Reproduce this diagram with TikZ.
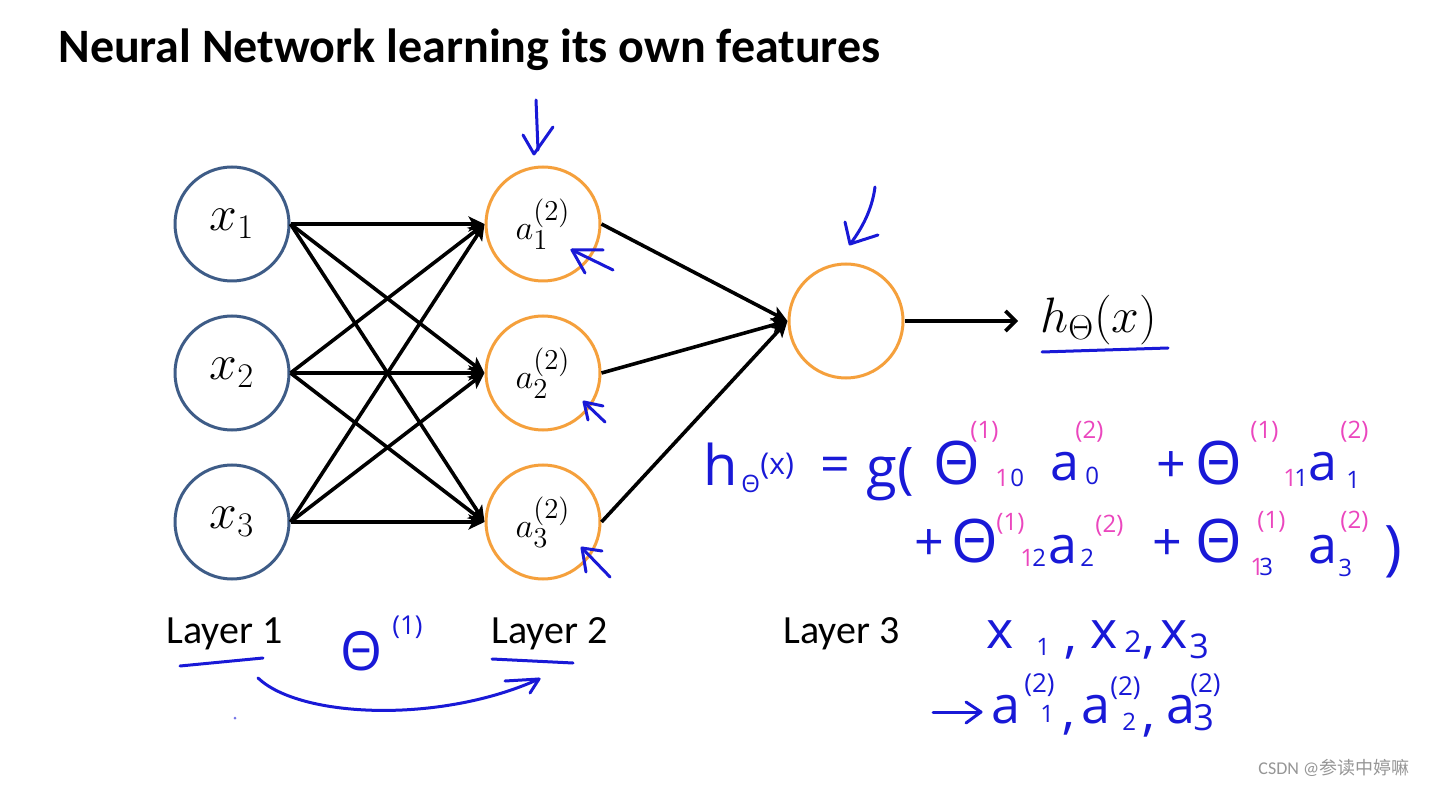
\documentclass[tikz,border=0pt]{standalone}
\usepackage[no-math]{fontspec}
\setmainfont{Carlito}
\newfontfamily\hwfont{Open Sans}
\newfontfamily\cjkfont{Noto Sans CJK SC}
\usetikzlibrary{arrows.meta}
\definecolor{inblue}{RGB}{62,92,135}
\definecolor{orng}{RGB}{245,160,60}
\definecolor{hwblue}{RGB}{25,25,215}
\definecolor{hwpink}{RGB}{235,70,190}
\definecolor{wmgray}{RGB}{150,150,150}
\tikzset{
  neuron/.style={circle, line width=1.5pt, minimum size=57pt, inner sep=0pt},
  inode/.style={neuron, draw=inblue, font=\fontsize{23}{28}\selectfont},
  hnode/.style={neuron, draw=orng, font=\fontsize{19}{24}\selectfont},
  edge/.style={line width=1.8pt, -{Stealth[length=8pt,width=7.5pt,inset=2pt]}},
  outedge/.style={line width=1.8pt, -{Straight Barb[length=5pt,width=10pt]}},
  layerlbl/.style={anchor=base west, inner sep=0pt, font=\fontsize{20}{24}\selectfont},
  hwline/.style={draw=hwblue, line width=1.5pt, line cap=round, line join=round},
  hw/.style={text=hwblue, inner sep=0pt, anchor=base west, font=\hwfont\fontsize{26}{26}\selectfont},
  hwT/.style={text=hwblue, inner sep=0pt, anchor=base west, font=\hwfont\fontsize{30}{30}\selectfont},
  hwm/.style={text=hwblue, inner sep=0pt, anchor=base west, font=\hwfont\fontsize{15}{15}\selectfont},
  hws/.style={text=hwblue, inner sep=0pt, anchor=base west, font=\hwfont\fontsize{12}{12}\selectfont},
  pk/.style={text=hwpink, inner sep=0pt, anchor=base west, font=\hwfont\fontsize{12}{12}\selectfont},
}
\begin{document}
\begin{tikzpicture}[x=0.5pt,y=-0.5pt]
\useasboundingbox (0,0) rectangle (1443,785);
\fill[white] (0,0) rectangle (1443,785);

% title
\node[anchor=base west, inner sep=0pt, font=\bfseries\fontsize{24}{28}\selectfont] (title) at (58,63) {Neural Network learning its own features};

% neurons
\node[inode] (x1) at (232,224) {$x_1$};
\node[inode] (x2) at (232,373) {$x_2$};
\node[inode] (x3) at (232,522) {$x_3$};
\node[hnode] (a1) at (543,224) {$a^{(2)}_1$};
\node[hnode] (a2) at (543,373) {$a^{(2)}_2$};
\node[hnode] (a3) at (543,522) {$a^{(2)}_3$};
\node[neuron, draw=orng] (o) at (846,321) {};
\node[anchor=west, inner sep=0pt, font=\fontsize{27}{32}\selectfont] (h) at (1040,320) {$h_\Theta(x)$};

% connections
\foreach \i in {1,2,3}{
  \foreach \j in {1,2,3}{
    \draw[edge] (x\i.east) -- (a\j.west);
  }
  \draw[edge] (a\i.east) -- (o.west);
}
\draw[outedge] (o.east) -- (1018,321);

% layer labels
\node[layerlbl] (l1) at (166,643) {Layer 1};
\node[layerlbl] (l2) at (491,643) {Layer 2};
\node[layerlbl] (l3) at (783,643) {Layer 3};

% handwritten arrows and marks
\draw[hwline] (536,100) -- (538,150);
\draw[hwline] (523,135) -- (534,154) -- (553,127);
\draw[hwline] (875,187) .. controls (872,210) and (862,228) .. (851,243);
\draw[hwline] (845,222) -- (850,244) -- (878,235);
\draw[hwline] (572,250) -- (613,270);
\draw[hwline] (585,273) -- (572,250) -- (603,250);
\draw[hwline] (584,402) -- (605,422);
\draw[hwline] (588,420) -- (584,402) -- (603,406);
\draw[hwline] (582,548) -- (610,577);
\draw[hwline] (586,572) -- (582,548) -- (602,551);
\draw[hwline] (180,666) -- (263,658);
\draw[hwline] (492,659) -- (573,663);
\draw[hwline] (1042,352) -- (1168,348);
\draw[hwline] (258,678) .. controls (300,718) and (440,724) .. (539,679);
\draw[hwline] (505,681) -- (539,679) -- (530,693);
\fill[hwblue!60] (235,718) circle (1.5);

% Theta(1) between layers
\node[hw, font=\hwfont\fontsize{27}{27}\selectfont] (th0) at (340,670) {Θ};
\node[hw, font=\hwfont\fontsize{13}{13}\selectfont] (th0s) at (392,634) {(1)};

% formula line 1
\node[hw, font=\hwfont\fontsize{28}{28}\selectfont] (f1h) at (703,485) {h};
\node[hws] (f1t) at (741,492) {Θ};
\node[hwm] (f1x) at (760,474) {(x)};
\node[hw] (f1eq) at (820,482) {=};
\node[hw, font=\hwfont\fontsize{28}{28}\selectfont] (f1g) at (866,487) {g(};
\node[hwT] (f1T0) at (933,484) {Θ};
\node[pk] (f1T0u) at (970,438) {(1)};
\node[pk] (f1T0a) at (995,486) {1};
\node[hws] (f1T0b) at (1010,486) {0};
\node[hw] (f1a0) at (1050,480) {a};
\node[hws] (f1a0b) at (1085,484) {0};
\node[pk] (f1a0u) at (1075,438) {(2)};
\node[hw] (f1p) at (1156,482) {+};
\node[hwT] (f1T1) at (1195,484) {Θ};
\node[pk] (f1T1u) at (1250,438) {(1)};
\node[pk] (f1T1a) at (1283,486) {1};
\node[hws] (f1T1b) at (1294,486) {1};
\node[hw] (f1a1) at (1308,480) {a};
\node[hws] (f1a1b) at (1346,488) {1};
\node[pk] (f1a1u) at (1340,438) {(2)};

% formula line 2
\node[hw] (f2p) at (914,560) {+};
\node[hwT] (f2T2) at (951,562) {Θ};
\node[pk] (f2T2u) at (996,530) {(1)};
\node[pk] (f2T2a) at (1020,566) {1};
\node[hws] (f2T2b) at (1032,566) {2};
\node[hw] (f2a2) at (1048,563) {a};
\node[hws] (f2a2b) at (1080,566) {2};
\node[pk] (f2a2u) at (1095,532) {(2)};
\node[hw] (f2p2) at (1152,560) {+};
\node[hwT] (f2T3) at (1195,562) {Θ};
\node[pk] (f2T3u) at (1257,528) {(1)};
\node[pk] (f2T3a) at (1250,575) {1};
\node[hws] (f2T3b) at (1259,575) {3};
\node[hw] (f2a3) at (1308,563) {a};
\node[hws] (f2a3b) at (1338,576) {3};
\node[pk] (f2a3u) at (1340,528) {(2)};
\node[hw, font=\hwfont\fontsize{30}{30}\selectfont] (f2c) at (1384,568) {)};

% x1, x2, x3
\node[hw] (x1h) at (986,648) {x};
\node[hws] (x1hb) at (1036,655) {1};
\node[hw] (c1) at (1064,652) {,};
\node[hw] (x2h) at (1090,648) {x};
\node[hwm] (x2hb) at (1124,652) {2};
\node[hw] (c2) at (1142,652) {,};
\node[hw] (x3h) at (1160,648) {x};
\node[hwm, font=\hwfont\fontsize{17}{17}\selectfont] (x3hb) at (1189,658) {3};

% -> a1, a2, a3
\draw[hwline] (933,712) -- (980,712);
\draw[hwline] (966,702) -- (981,712) -- (966,723);
\node[hw] (aa1) at (991,723) {a};
\node[hws] (aa1b) at (1040,722) {1};
\node[hws, font=\hwfont\fontsize{13}{13}\selectfont] (aa1u) at (1024,692) {(2)};
\node[hw] (c3) at (1062,728) {,};
\node[hw] (aa2) at (1081,723) {a};
\node[hws] (aa2b) at (1122,730) {2};
\node[hws, font=\hwfont\fontsize{13}{13}\selectfont] (aa2u) at (1110,695) {(2)};
\node[hw] (c4) at (1142,730) {,};
\node[hw] (aa3) at (1166,723) {a};
\node[hwm, font=\hwfont\fontsize{18}{18}\selectfont] (aa3b) at (1193,730) {3};
\node[hws, font=\hwfont\fontsize{13}{13}\selectfont] (aa3u) at (1190,692) {(2)};

% watermark
\node[anchor=base west, inner sep=0pt, text=wmgray, font=\fontsize{9}{10}\selectfont] (wm) at (1258,774) {CSDN @{\cjkfont 参读中婷嘛}};
\end{tikzpicture}
\end{document}
